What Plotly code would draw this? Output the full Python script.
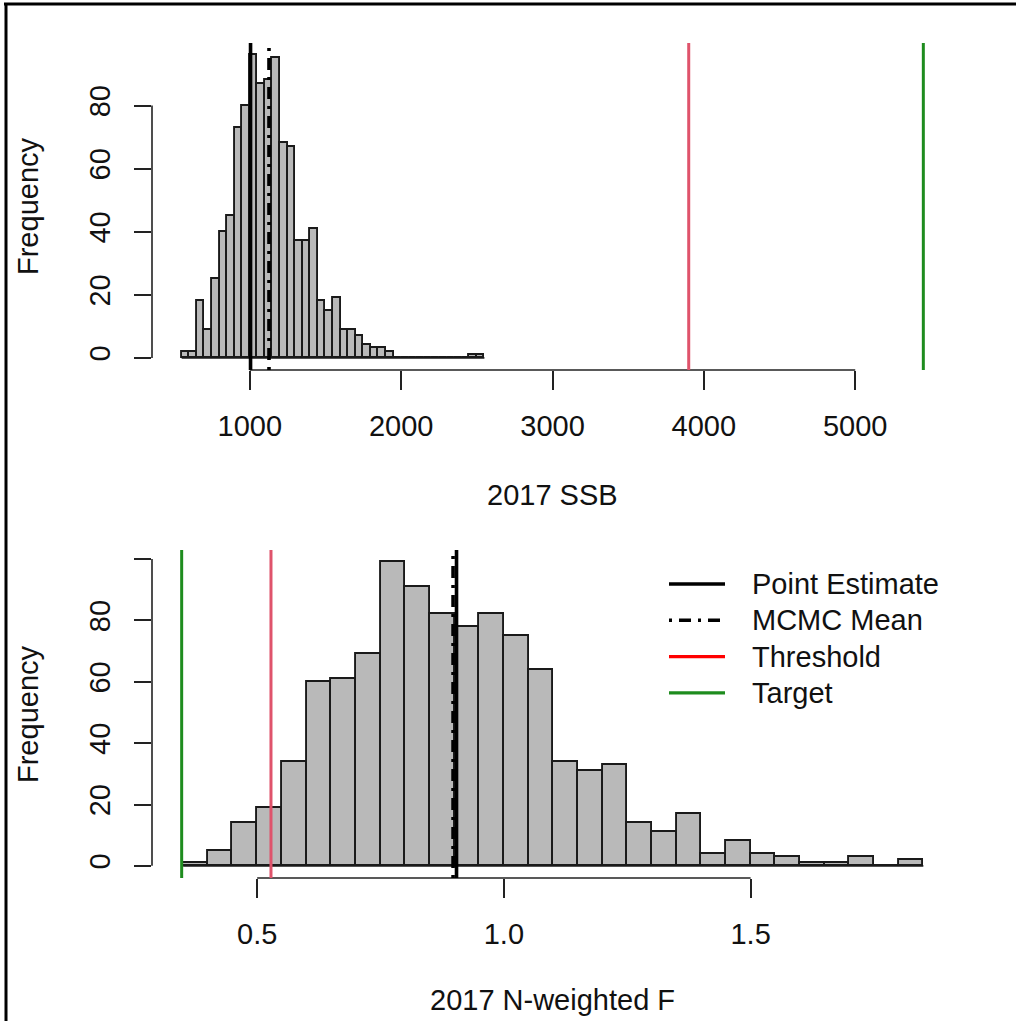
import plotly.graph_objects as go

W, H = 1016, 1021

# ---------------- data ----------------
ssb_bin_start = 550
ssb_bin_width = 50
ssb_counts = [2, 2, 18, 9, 25, 40, 45, 73, 80, 96, 87, 88, 95, 68, 67, 37, 37, 41,
              18, 15, 19, 9, 9, 7, 4, 3, 3, 2,
              0, 0, 0, 0, 0, 0, 0, 0, 0, 0, 1, 1]
ssb_point = 1005
ssb_mean = 1127
ssb_threshold = 3900
ssb_target = 5450
ssb_xticks = [1000, 2000, 3000, 4000, 5000]
ssb_yticks = [0, 20, 40, 60, 80]

f_bin_start = 0.35
f_bin_width = 0.05
f_counts = [1, 5, 14, 19, 34, 60, 61, 69, 99, 91, 82, 78, 82, 75, 64, 34, 31, 33,
            14, 11, 17, 4, 8, 4, 3, 1, 1, 3, 0, 2]
f_point = 0.904
f_mean = 0.897
f_threshold = 0.528
f_target = 0.347
f_xticks = [0.5, 1.0, 1.5]
f_xticklabels = ["0.5", "1.0", "1.5"]
f_yticks = [0, 20, 40, 60, 80, 100]
f_yticklabels = ["0", "20", "40", "60", "80", ""]

legend_labels = ["Point Estimate", "MCMC Mean", "Threshold", "Target"]
legend_colors = ["#000000", "#000000", "#FF0000", "#1E8C1E"]
legend_dash = ["solid", "3px,7px,12px,7px", "solid", "solid"]

# ---------------- style ----------------
FONT = "Liberation Sans, Arial, sans-serif"
FS = 29
TXT = "#111111"
AX = "#222222"
BAR_FILL = "#B9B9B9"
BAR_LINE = "#1A1A1A"
BAR_LW = 1.9
RED_LINE = "#DF536B"
GREEN_LINE = "#1E8C1E"
DOTDASH = "3px,7px,12px,7px"


def px(x):
    return x / W


def py(y):
    return 1 - y / H


def r_range(lo, hi):
    d = (hi - lo) * 0.04
    return [lo - d, hi + d]


fig = go.Figure()


def add_hist(start, width, counts, xa, ya):
    lefts = [start + i * width for i in range(len(counts))]
    centers = [l + width / 2 for l in lefts]
    fig.add_trace(go.Scatter(x=[lefts[0], lefts[-1] + width], y=[0, 0], mode="lines",
                             line=dict(color=BAR_LINE, width=BAR_LW), xaxis=xa, yaxis=ya,
                             showlegend=False, hoverinfo="skip"))
    fig.add_trace(go.Bar(x=centers, y=counts, width=width, xaxis=xa, yaxis=ya,
                         marker=dict(color=BAR_FILL, line=dict(color=BAR_LINE, width=BAR_LW)),
                         showlegend=False))
    return lefts[0], lefts[-1] + width


ssb_lo, ssb_hi = add_hist(ssb_bin_start, ssb_bin_width, ssb_counts, "x", "y")
f_lo, f_hi = add_hist(f_bin_start, f_bin_width, f_counts, "x2", "y2")

ssb_xrange = r_range(min(ssb_lo, ssb_target), max(ssb_hi, ssb_target))
f_xrange = r_range(min(f_lo, f_target), max(f_hi, f_target))
ssb_yrange = r_range(0, max(ssb_counts))
f_yrange = r_range(0, max(f_counts))

top_dom_y = [py(370), py(43)]
bot_dom_y = [py(878), py(550)]
dom_x = [px(152), px(953)]

xcommon = dict(showgrid=False, zeroline=False, showline=False, ticks="outside",
               ticklen=19, tickwidth=1.6, tickcolor=AX,
               tickfont=dict(family=FONT, size=FS, color=TXT), ticklabelstandoff=11)
ycommon = dict(showgrid=False, zeroline=False, showline=False, ticks="outside",
               ticklen=17, tickwidth=1.6, tickcolor=AX, tickangle=-90,
               tickfont=dict(family=FONT, size=FS, color=TXT), ticklabelstandoff=12)

fig.update_layout(
    width=W, height=H, margin=dict(l=0, r=0, t=0, b=0),
    paper_bgcolor="white", plot_bgcolor="white", barmode="overlay", bargap=0,
    showlegend=False,
    xaxis=dict(domain=dom_x, range=ssb_xrange, anchor="y", tickvals=ssb_xticks,
               ticktext=[str(v) for v in ssb_xticks], **xcommon),
    yaxis=dict(domain=top_dom_y, range=ssb_yrange, anchor="x", tickvals=ssb_yticks,
               ticktext=[str(v) for v in ssb_yticks], **ycommon),
    xaxis2=dict(domain=dom_x, range=f_xrange, anchor="y2", tickvals=f_xticks,
                ticktext=f_xticklabels, **xcommon),
    yaxis2=dict(domain=bot_dom_y, range=f_yrange, anchor="x2", tickvals=f_yticks,
                ticktext=f_yticklabels, **ycommon),
)

shapes = []
# R-style axis lines spanning first..last tick
for xa, ya, ticks in [("x", "y", ssb_xticks), ("x2", "y2", f_xticks)]:
    shapes.append(dict(type="line", xref=xa, yref=ya + " domain", x0=ticks[0], x1=ticks[-1],
                       y0=0, y1=0, line=dict(color=AX, width=1.6)))
for xa, ya, ticks in [("x", "y", ssb_yticks), ("x2", "y2", f_yticks)]:
    shapes.append(dict(type="line", xref=xa + " domain", yref=ya, x0=0, x1=0,
                       y0=ticks[0], y1=ticks[-1], line=dict(color=AX, width=1.6)))

# reference lines
for xa, ya, pt, mn, th, tg in [("x", "y", ssb_point, ssb_mean, ssb_threshold, ssb_target),
                               ("x2", "y2", f_point, f_mean, f_threshold, f_target)]:
    for val, col, wd, dash in [(th, RED_LINE, 3, "solid"), (tg, GREEN_LINE, 3, "solid"),
                               (pt, "#000000", 3.6, "solid"), (mn, "#000000", 3.6, DOTDASH)]:
        shapes.append(dict(type="line", xref=xa, yref=ya + " domain", x0=val, x1=val,
                           y0=0, y1=1, line=dict(color=col, width=wd, dash=dash)))

# legend (drawn R-style)
annotations = []
for i, (lab, col, dash) in enumerate(zip(legend_labels, legend_colors, legend_dash)):
    yy = 584 + i * 36.3
    shapes.append(dict(type="line", xref="paper", yref="paper", x0=px(669), x1=px(725),
                       y0=py(yy), y1=py(yy), line=dict(color=col, width=3.4, dash=dash)))
    annotations.append(dict(xref="paper", yref="paper", x=px(750), y=py(yy), text=lab,
                            showarrow=False, xanchor="left", yanchor="middle",
                            font=dict(family=FONT, size=FS, color=TXT)))

# axis titles
annotations += [
    dict(xref="paper", yref="paper", x=px(552), y=py(495), text="2017 SSB", showarrow=False,
         xanchor="center", yanchor="middle", font=dict(family=FONT, size=FS, color=TXT)),
    dict(xref="paper", yref="paper", x=px(552), y=py(1000), text="2017 N-weighted F",
         showarrow=False, xanchor="center", yanchor="middle",
         font=dict(family=FONT, size=FS, color=TXT)),
    dict(xref="paper", yref="paper", x=px(28), y=py(206), text="Frequency", showarrow=False,
         textangle=-90, xanchor="center", yanchor="middle",
         font=dict(family=FONT, size=FS, color=TXT)),
    dict(xref="paper", yref="paper", x=px(28), y=py(714), text="Frequency", showarrow=False,
         textangle=-90, xanchor="center", yanchor="middle",
         font=dict(family=FONT, size=FS, color=TXT)),
]

# outer frame (top and left edges)
shapes.append(dict(type="line", xref="paper", yref="paper", x0=px(4), x1=1, y0=py(4), y1=py(4),
                   line=dict(color="#000000", width=3)))
shapes.append(dict(type="line", xref="paper", yref="paper", x0=px(6), x1=px(6), y0=py(4), y1=0,
                   line=dict(color="#000000", width=3)))

fig.update_layout(shapes=shapes, annotations=annotations)
fig.write_html("out.html", config={"displayModeBar": False},
               post_script="document.body.style.margin='0';")
